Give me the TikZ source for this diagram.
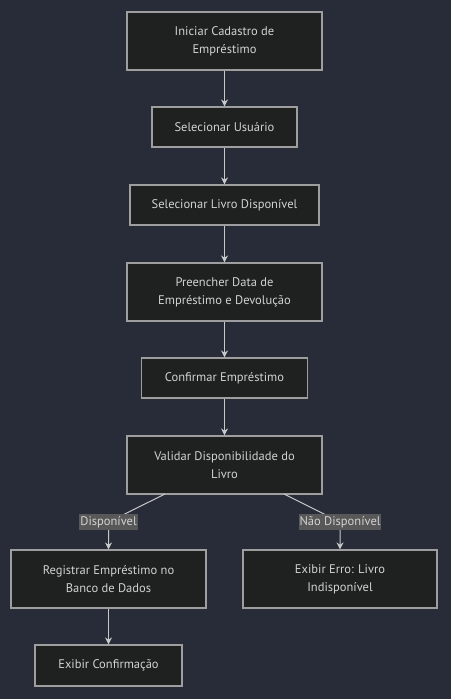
\documentclass[tikz,border=0pt]{standalone}
\usepackage{fontspec}
\setmainfont{PT Sans}
\usetikzlibrary{arrows.meta}
\definecolor{bgc}{HTML}{282C39}
\definecolor{boxfill}{HTML}{1F2020}
\definecolor{boxline}{HTML}{9E9E9E}
\definecolor{txt}{HTML}{D2D2D2}
\definecolor{edge}{HTML}{C8C8C8}
\definecolor{lblbg}{HTML}{585858}
\tikzset{
  box/.style={draw=boxline, line width=1.1pt, fill=boxfill, text=txt, align=center,
    font=\fontsize{12.5}{18}\selectfont, inner sep=0pt, anchor=center},
  lbl/.style={fill=lblbg, text=txt, font=\fontsize{12.5}{14}\selectfont, inner xsep=1pt, inner ysep=2pt},
  conn/.style={draw=edge, line width=1pt, -{Stealth[length=7pt,width=7pt]}}
}
\begin{document}
\begin{tikzpicture}[x=1pt,y=-1pt]
\useasboundingbox (0,0) rectangle (451,699);
\fill[bgc] (0,0) rectangle (451,699);
\node[box, minimum width=195pt, minimum height=58pt] (n1) at (224.5,41) {Iniciar Cadastro de\\Empréstimo};
\node[box, minimum width=145pt, minimum height=40pt] (n2) at (224.5,127) {Selecionar Usuário};
\node[box, minimum width=189pt, minimum height=40pt] (n3) at (224.5,205) {Selecionar Livro Disponível};
\node[box, minimum width=195pt, minimum height=58pt] (n4) at (224.5,292) {Preencher Data de\\Empréstimo e Devolução};
\node[box, minimum width=166pt, minimum height=40pt] (n5) at (224.5,378) {Confirmar Empréstimo};
\node[box, minimum width=195pt, minimum height=58pt] (n6) at (224.5,465) {Validar Disponibilidade do\\Livro};
\node[box, minimum width=195pt, minimum height=58pt] (n7) at (108.5,579) {Registrar Empréstimo no\\Banco de Dados};
\node[box, minimum width=194pt, minimum height=58pt] (n8) at (340,579) {Exibir Erro: Livro\\Indisponível};
\node[box, minimum width=147pt, minimum height=41pt] (n9) at (108.5,665.5) {Exibir Confirmação};
\coordinate (c1) at (108.5,522);
\coordinate (c2) at (340,522);
\coordinate (s1) at (165,494);
\coordinate (s2) at (284,494);
\draw[conn] (n1) -- (n2);
\draw[conn] (n2) -- (n3);
\draw[conn] (n3) -- (n4);
\draw[conn] (n4) -- (n5);
\draw[conn] (n5) -- (n6);
\draw[conn] (s1) -- (c1) -- (n7.north);
\draw[conn] (s2) -- (c2) -- (n8.north);
\draw[conn] (n7) -- (n9);
\node[lbl] (l1) at (c1) {Disponível};
\node[lbl] (l2) at (c2) {Não Disponível};
\end{tikzpicture}
\end{document}
